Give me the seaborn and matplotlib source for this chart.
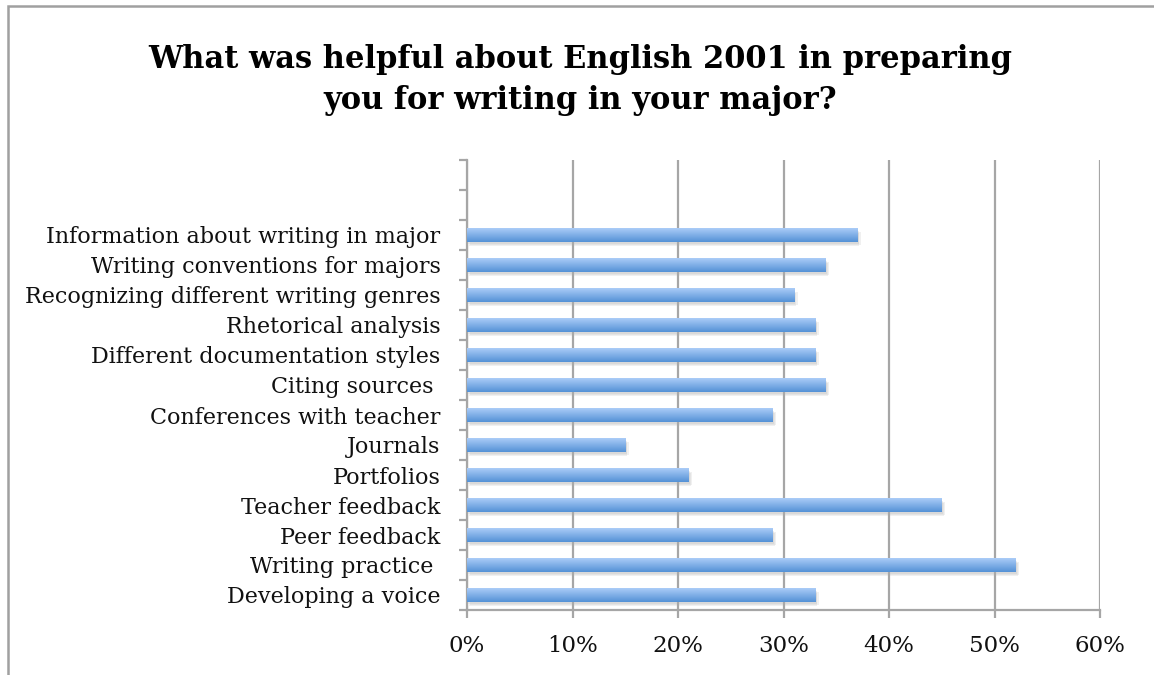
import numpy as np
import pandas as pd
import matplotlib
matplotlib.use("Agg")
import matplotlib.pyplot as plt
import matplotlib.patheffects as pe
from matplotlib.patches import Rectangle
from matplotlib.ticker import FuncFormatter, FixedLocator
import seaborn as sns

# Survey responses: share of students naming each aspect as helpful
categories = [
    "Information about writing in major",
    "Writing conventions for majors",
    "Recognizing different writing genres",
    "Rhetorical analysis",
    "Different documentation styles",
    "Citing sources ",
    "Conferences with teacher",
    "Journals",
    "Portfolios",
    "Teacher feedback",
    "Peer feedback",
    "Writing practice ",
    "Developing a voice",
]
shares = [0.37, 0.34, 0.31, 0.33, 0.33, 0.34, 0.29, 0.15, 0.21, 0.45, 0.29, 0.52, 0.33]
# two unused slots sit above the first answer
blank_slots = ["\u200b", "\u200b\u200b"]
x_ticks = [0.0, 0.1, 0.2, 0.3, 0.4, 0.5, 0.6]

title = "What was helpful about English 2001 in preparing\nyou for writing in your major?"

sns.set_theme(style="white")
plt.rcParams["font.family"] = ["DejaVu Serif"]

df = pd.DataFrame({"category": categories, "share": shares})
order = blank_slots + categories

fig = plt.figure(figsize=(11.54, 6.75), dpi=100)
ax = fig.add_axes([467 / 1154, 1 - 610 / 675, (1100 - 467) / 1154, (610 - 160) / 675])

sns.barplot(data=df, x="share", y="category", order=order, orient="h",
            width=0.44, color="#82b1eb", saturation=1, ax=ax, zorder=3)

# vertical gradient and soft drop shadow on each bar
grad = np.linspace(0, 1, 64).reshape(-1, 1)
top = np.array([0.67, 0.80, 0.97])
bottom = np.array([0.33, 0.57, 0.84])
cols = top + (bottom - top) * grad
img = cols.reshape(64, 1, 3)
shadow = [
    pe.SimplePatchShadow(offset=(1.5, -3.5), shadow_rgbFace="#b0b0b0", alpha=0.18),
    pe.SimplePatchShadow(offset=(2.5, -2.5), shadow_rgbFace="#b0b0b0", alpha=0.18),
    pe.SimplePatchShadow(offset=(1.0, -2.0), shadow_rgbFace="#b0b0b0", alpha=0.2),
    pe.Normal(),
]
for p in list(ax.patches):
    x0, y0 = p.get_x(), p.get_y()
    w, h = p.get_width(), p.get_height()
    if not np.isfinite(w) or w == 0:
        continue
    p.set_linewidth(0)
    p.set_path_effects(shadow)
    im = ax.imshow(img, extent=[x0, x0 + w, y0 + h, y0], aspect="auto",
                   interpolation="bilinear", zorder=4)
    im.set_clip_path(p)

ax.set_xlim(0, 0.6)
ax.set_ylim(len(order) - 0.5, -0.5)
ax.xaxis.set_major_locator(FixedLocator(x_ticks))
ax.xaxis.set_major_formatter(FuncFormatter(lambda v, _: f"{v * 100:.0f}%"))
ax.set_xlabel("")
ax.set_ylabel("")

grid_col = "#a6a6a6"
ax.grid(axis="x", color=grid_col, linewidth=1.6, zorder=0)
ax.set_axisbelow(True)
for side in ["top", "right"]:
    ax.spines[side].set_visible(False)
for side in ["left", "bottom"]:
    ax.spines[side].set_color(grid_col)
    ax.spines[side].set_linewidth(1.6)

# category labels centred in slots, tick marks on slot boundaries
ax.set_yticks(range(len(order)))
ax.set_yticklabels(["", ""] + categories)
ax.set_yticks(np.arange(-0.5, len(order), 1.0), minor=True)
ax.tick_params(axis="y", which="major", length=0, pad=19, labelsize=16, labelcolor="#111111")
ax.tick_params(axis="y", which="minor", left=True, length=5.5, width=1.6, color=grid_col)
ax.tick_params(axis="x", which="major", bottom=True, length=6, width=1.6, color=grid_col,
               pad=12, labelsize=16.5, labelcolor="#111111")

fig.text(0.5025, 1 - 80 / 675, title, ha="center", va="center", fontsize=22,
         fontweight="bold", linespacing=1.45, color="#000000")

# chart frame
fig.patches.append(Rectangle((8 / 1154, -0.05), 1.2, 1 - 6 / 675 + 0.05,
                             transform=fig.transFigure, fill=False,
                             edgecolor="#a0a0a0", linewidth=1.8))

fig.savefig("out.png", dpi=100)
